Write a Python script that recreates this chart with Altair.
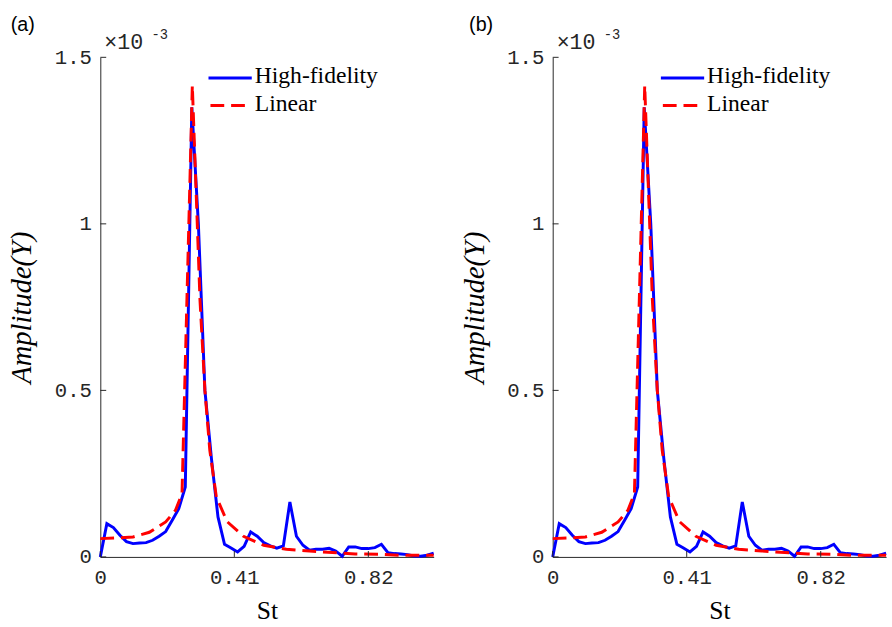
import altair as alt
import pandas as pd

# ---------------- data (amplitude in units of 1e-3) ----------------
ST_HF = [0.00, 0.02, 0.04, 0.06, 0.08, 0.10, 0.12, 0.14, 0.16, 0.18,
         0.20, 0.22, 0.24, 0.26, 0.28, 0.30, 0.32, 0.34, 0.36, 0.38,
         0.40, 0.42, 0.44, 0.46, 0.48, 0.50, 0.52, 0.54, 0.56, 0.58,
         0.60, 0.62, 0.64, 0.66, 0.68, 0.70, 0.72, 0.74, 0.76, 0.78,
         0.80, 0.82, 0.84, 0.86, 0.88, 0.90, 0.92, 0.94, 0.96, 0.98,
         1.00, 1.02]
AMP_HF = [0.000, 0.100, 0.088, 0.065, 0.046, 0.040, 0.042, 0.043, 0.050, 0.062,
          0.076, 0.110, 0.145, 0.210, 1.350, 1.000, 0.500, 0.295, 0.120, 0.038,
          0.027, 0.015, 0.032, 0.075, 0.062, 0.043, 0.033, 0.026, 0.033, 0.165,
          0.062, 0.035, 0.020, 0.023, 0.023, 0.026, 0.018, 0.002, 0.030, 0.030,
          0.025, 0.025, 0.028, 0.038, 0.013, 0.010, 0.009, 0.007, 0.003, 0.002,
          0.005, 0.011]

ST_LIN = [0.00, 0.05, 0.10, 0.15, 0.20, 0.23, 0.25, 0.2815, 0.305, 0.32,
          0.335, 0.355, 0.388, 0.438, 0.50, 0.569, 0.64, 0.71, 0.78, 0.85,
          0.92, 1.02]
AMP_LIN = [0.055, 0.057, 0.060, 0.074, 0.105, 0.140, 0.190, 1.415, 0.770, 0.500,
           0.320, 0.180, 0.106, 0.062, 0.035, 0.023, 0.018, 0.013, 0.009, 0.008,
           0.005, 0.005]

SERIES = ["High-fidelity", "Linear"]
COLORS = ["#0000FF", "#FF0000"]
X_TICKS = [0, 0.41, 0.82]
Y_TICKS = [0, 0.5, 1, 1.5]
PANELS = ["(a)", "(b)"]
PANEL_LABEL_X = [-91, -85]

W, H = 339, 508
AX = "#262626"
DASH = [14, 7]

hf = pd.DataFrame({"St": ST_HF, "amp": AMP_HF})
lin = pd.DataFrame({"St": ST_LIN, "amp": AMP_LIN})
xt = pd.DataFrame({"St": X_TICKS})
yt = pd.DataFrame({"amp": Y_TICKS})
one = pd.DataFrame({"k": [0]})

X = alt.X("St:Q",
          scale=alt.Scale(domain=[0, 1.02], nice=False, zero=False),
          axis=alt.Axis(values=X_TICKS, labelExpr="datum.value + ''",
                        title="St", ticks=False,
                        grid=False, domainColor=AX, domainWidth=1,
                        labelFont="Liberation Mono", labelFontSize=21,
                        labelColor=AX, labelPadding=10, labelFlush=False,
                        labelOverlap=False,
                        titleFont="Liberation Serif", titleFontSize=26,
                        titleFontWeight="normal", titleColor="#000000",
                        titlePadding=11))
Y = alt.Y("amp:Q",
          scale=alt.Scale(domain=[0, 1.5], nice=False),
          axis=alt.Axis(values=Y_TICKS, labelExpr="datum.value + ''",
                        title="Amplitude(Y)",
                        ticks=False, grid=False, domainColor=AX, domainWidth=1,
                        labelFont="Liberation Mono", labelFontSize=21,
                        labelColor=AX, labelPadding=9, labelFlush=False,
                        labelOverlap=False,
                        titleFont="Liberation Serif", titleFontSize=29,
                        titleFontStyle="italic", titleFontWeight="normal",
                        titleColor="#000000", titlePadding=18))


def panel(idx):
    blue = alt.Chart(hf).mark_line(color=COLORS[0], strokeWidth=3).encode(x=X, y=Y)
    red = alt.Chart(lin).mark_line(color=COLORS[1], strokeWidth=3,
                                   strokeDash=DASH).encode(x=X, y=Y)
    xticks = alt.Chart(xt).mark_rule(color=AX, strokeWidth=1).encode(
        x=X, y=alt.value(H), y2=alt.value(H - 6))
    yticks = alt.Chart(yt).mark_rule(color=AX, strokeWidth=1).encode(
        y=Y, x=alt.value(0), x2=alt.value(6))
    leg_blue = alt.Chart(one).mark_rule(color=COLORS[0], strokeWidth=3).encode(
        x=alt.value(110), x2=alt.value(154), y=alt.value(21))
    leg_red = alt.Chart(one).mark_rule(color=COLORS[1], strokeWidth=3,
                                       strokeDash=DASH).encode(
        x=alt.value(112), x2=alt.value(147), y=alt.value(49))
    leg_t1 = alt.Chart(one).mark_text(font="Liberation Serif", fontSize=24,
                                      align="left", baseline="alphabetic",
                                      color="#000000").encode(
        x=alt.value(157), y=alt.value(26), text=alt.value(SERIES[0]))
    leg_t2 = alt.Chart(one).mark_text(font="Liberation Serif", fontSize=24,
                                      align="left", baseline="alphabetic",
                                      color="#000000").encode(
        x=alt.value(157), y=alt.value(55), text=alt.value(SERIES[1]))
    times = alt.Chart(one).mark_text(font="Liberation Mono", fontSize=22,
                                     align="left", baseline="alphabetic",
                                     color=AX).encode(
        x=alt.value(4), y=alt.value(-8), text=alt.value("×10"))
    expo = alt.Chart(one).mark_text(font="Liberation Mono", fontSize=14,
                                    align="left", baseline="alphabetic",
                                    color=AX).encode(
        x=alt.value(52), y=alt.value(-19), text=alt.value("-3"))
    plab = alt.Chart(one).mark_text(font="Liberation Sans", fontSize=20,
                                    align="left", baseline="alphabetic",
                                    color="#000000").encode(
        x=alt.value(PANEL_LABEL_X[idx]), y=alt.value(-27),
        text=alt.value(PANELS[idx]))
    return alt.layer(blue, red, xticks, yticks, leg_blue, leg_red, leg_t1,
                     leg_t2, times, expo, plab).properties(width=W, height=H)


chart = alt.hconcat(panel(0), panel(1), spacing=21).properties(
    padding={"left": 8, "top": 10, "right": 0, "bottom": 0},
    background="white",
).configure_view(stroke=None)

chart.save("out.html", embed_options={"renderer": "svg", "actions": False})
